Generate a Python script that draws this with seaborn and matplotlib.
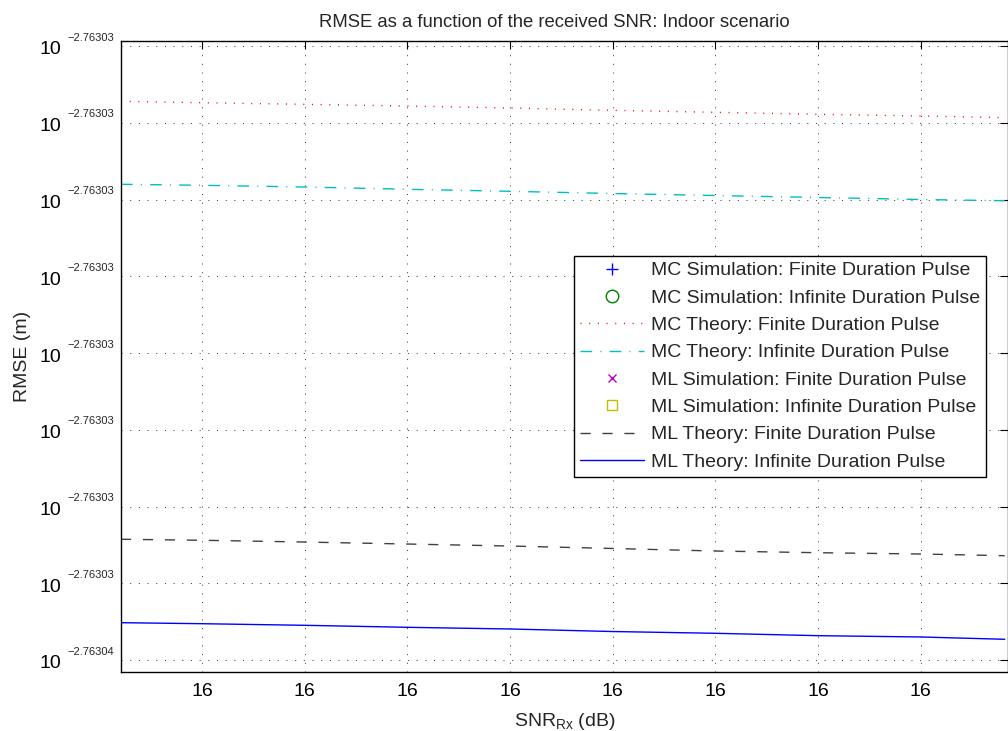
import numpy as np
import pandas as pd
import matplotlib
matplotlib.use("Agg")
import matplotlib.pyplot as plt
import seaborn as sns
from matplotlib.lines import Line2D
from matplotlib.transforms import ScaledTranslation

# ---------------- data (axis in tick units; ticks are degenerate labels) -------------
snr_pos = [0.211, 1, 2, 3, 4, 5, 6, 7, 8, 8.82]
mc_theory_finite = [7.279, 7.261, 7.240, 7.218, 7.192, 7.162, 7.136, 7.110, 7.088, 7.066]
mc_theory_infinite = [6.198, 6.185, 6.163, 6.133, 6.107, 6.078, 6.052, 6.026, 6.000, 5.984]
ml_theory_finite = [1.573, 1.560, 1.537, 1.511, 1.485, 1.453, 1.420, 1.398, 1.381, 1.359]
ml_theory_infinite = [0.486, 0.473, 0.452, 0.426, 0.404, 0.371, 0.348, 0.317, 0.300, 0.270]

x_tick_pos = [1, 2, 3, 4, 5, 6, 7, 8]
x_tick_labels = ["16"] * 8
y_tick_pos = [0, 1, 2, 3, 4, 5, 6, 7, 8]
y_tick_base = ["10"] * 9
y_tick_exponents = ["\u22122.76304"] + ["\u22122.76303"] * 8

labels = [
    "MC Simulation: Finite Duration Pulse",
    "MC Simulation: Infinite Duration Pulse",
    "MC Theory: Finite Duration Pulse",
    "MC Theory: Infinite Duration Pulse",
    "ML Simulation: Finite Duration Pulse",
    "ML Simulation: Infinite Duration Pulse",
    "ML Theory: Finite Duration Pulse",
    "ML Theory: Infinite Duration Pulse",
]

# ---------------- style -------------
sns.set_style("white")
plt.rcParams["font.family"] = ["Liberation Sans", "DejaVu Sans"]
plt.rcParams["mathtext.fontset"] = "custom"
plt.rcParams["mathtext.rm"] = "Liberation Sans"
plt.rcParams["mathtext.it"] = "Liberation Sans:italic"
plt.rcParams["mathtext.default"] = "regular"
plt.rcParams["lines.scale_dashes"] = False

fig = plt.figure(figsize=(10.08, 7.31), dpi=100)
ax = fig.add_axes([121 / 1008, (731 - 672) / 731, (1008.5 - 121) / 1008, (672 - 41) / 731])

df = pd.DataFrame({
    "snr": snr_pos * 4,
    "rmse": mc_theory_finite + mc_theory_infinite + ml_theory_finite + ml_theory_infinite,
    "series": [labels[2]] * 10 + [labels[3]] * 10 + [labels[6]] * 10 + [labels[7]] * 10,
})

dot = (0.75, 5.5)
dashdot = (8.4, 5.9, 0.75, 5.9)
dash = (7.3, 8.5)
styles = {
    labels[2]: dict(color="#ff0000", dashes=dot),
    labels[3]: dict(color="#00bfbf", dashes=dashdot),
    labels[6]: dict(color="#404040", dashes=dash),
    labels[7]: dict(color="#0000ff", dashes=None),
}
for name, st in styles.items():
    sub = df[df["series"] == name]
    sns.lineplot(data=sub, x="snr", y="rmse", ax=ax, color=st["color"], lw=1.0,
                 legend=False, estimator=None, sort=False)
    l = ax.lines[-1]
    if st["dashes"] is not None:
        l.set_dashes(st["dashes"])

ax.set_xlim(0.211, 1 + (1008.5 - 202) / 102.65)
ax.set_ylim(-12 / 76.75, 8 + 5 / 76.75)
ax.set_xticks(x_tick_pos)
ax.set_xticklabels(x_tick_labels)
ax.set_yticks(y_tick_pos)
ax.set_yticklabels(y_tick_base)

ax.tick_params(direction="in", length=6, width=0.8, top=True, right=True,
               labelsize=14, colors="black")
ax.tick_params(axis="x", pad=8)
ax.tick_params(axis="y", pad=43)
for t in ax.get_yticklabels():
    t.set_transform(t.get_transform() + ScaledTranslation(0, -2 / 100, fig.dpi_scale_trans))

# exponents of the y tick labels
ytrans = ax.get_yaxis_transform()
for ypos, ex in zip(y_tick_pos, y_tick_exponents):
    ax.annotate(ex, xy=(0, ypos), xycoords=ytrans, xytext=(-(121 - 67) * 0.72, 2.5),
                textcoords="offset points", ha="left", va="bottom", fontsize=8,
                annotation_clip=False)

for sp in ax.spines.values():
    sp.set_color("black")
    sp.set_linewidth(1.0)

ax.grid(True, color="black", linewidth=0.7, alpha=0.75)
for gl in ax.get_xgridlines() + ax.get_ygridlines():
    gl.set_dashes(dot)

ax.set_title("RMSE as a function of the received SNR: Indoor scenario", fontsize=13.3, pad=10,
             x=(554.5 - 121) / 887.5)
ax.set_xlabel(r"SNR$_{Rx}$ (dB)", fontsize=14, labelpad=8)
ax.set_ylabel("RMSE (m)", fontsize=14)
ax.yaxis.set_label_coords((31 - 121) / 887.5, 0.5)

handles = [
    Line2D([], [], ls="none", marker="+", color="#0000ff", ms=9, mew=1),
    Line2D([], [], ls="none", marker="o", color="#008000", mfc="none", ms=9, mew=1),
    Line2D([], [], color="#ff0000", lw=1, dashes=dot),
    Line2D([], [], color="#00bfbf", lw=1, dashes=dashdot),
    Line2D([], [], ls="none", marker="x", color="#bf00bf", ms=6, mew=1),
    Line2D([], [], ls="none", marker="s", color="#bfbf00", mfc="none", ms=7, mew=1),
    Line2D([], [], color="#404040", lw=1, dashes=dash),
    Line2D([], [], color="#0000ff", lw=1),
]
leg = ax.legend(handles, labels, loc="upper right", bbox_to_anchor=(986 / 1008, (731 - 256) / 731),
                bbox_transform=fig.transFigure, fontsize=14, frameon=True, fancybox=False,
                framealpha=1, edgecolor="black", handlelength=3.3, handletextpad=0.35,
                labelspacing=0.5, borderpad=0.3, borderaxespad=0)
leg.get_frame().set_linewidth(1.0)

fig.savefig("out.png", dpi=100)
